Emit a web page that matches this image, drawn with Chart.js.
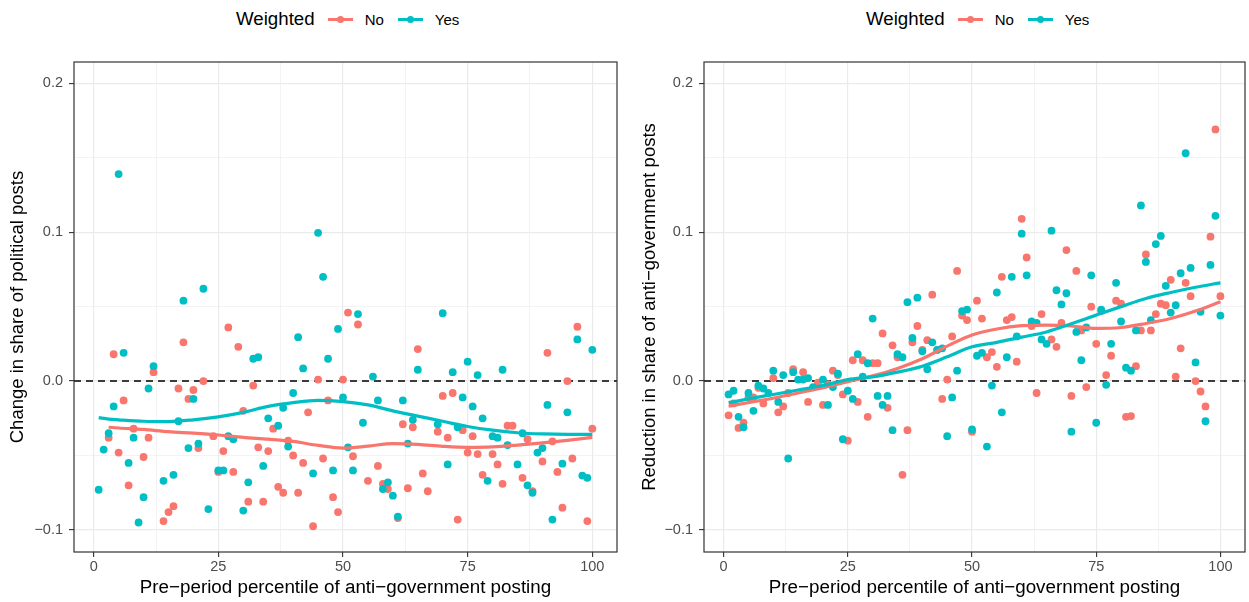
<!DOCTYPE html>
<html>
<head>
<meta charset="utf-8">
<script src="https://cdn.jsdelivr.net/npm/chart.js@4.4.1/dist/chart.umd.min.js"></script>
<style>
  body { margin: 0; background: #fff; width: 1249px; height: 602px; overflow: hidden; position: relative;
         font-family: "Liberation Sans", Arial, sans-serif; }
  canvas { position: absolute; top: 0; }
  .legend { position: absolute; top: 6px; height: 26px; display: flex; align-items: center; white-space: nowrap; color: #000; }
  .legend .ttl { font-size: 18.7px; margin-right: 13px; }
  .key { position: relative; width: 25px; height: 14px; margin-right: 12px; }
  .key::before { content: ""; position: absolute; left: 0; right: 0; top: 5.5px; height: 3px; background: var(--c); }
  .key::after { content: ""; position: absolute; left: 9px; top: 3.5px; width: 7px; height: 7px; border-radius: 50%; background: var(--c); }
  .lab { font-size: 15px; margin-right: 14px; }
</style>
</head>
<body>
<div class="legend" style="left:236px"><span class="ttl">Weighted</span><span class="key" style="--c:#F8766D"></span><span class="lab">No</span><span class="key" style="--c:#00BFC4"></span><span class="lab">Yes</span></div>
<div class="legend" style="left:866px"><span class="ttl">Weighted</span><span class="key" style="--c:#F8766D"></span><span class="lab">No</span><span class="key" style="--c:#00BFC4"></span><span class="lab">Yes</span></div>
<canvas id="izq" width="624" height="602" style="left:0"></canvas>
<canvas id="der" width="619" height="602" style="left:630px"></canvas>
<script>
const percentile = Array.from({ length: 100 }, (_, i) => i + 1)

// left panel: change in share of political posts
const leftNo = [
  null, null, -0.038, 0.018, -0.048, -0.013, -0.070, -0.032, null, -0.051,
  -0.038, 0.006, null, -0.094, -0.088, -0.084, -0.005, 0.026, -0.012, -0.006,
  -0.045, 0.000, null, -0.037, -0.061, -0.047, 0.036, -0.061, 0.023, -0.020,
  -0.081, -0.003, -0.0445, -0.081, -0.047, -0.032, -0.071, -0.075, -0.040, -0.050,
  -0.075, -0.055, -0.021, -0.0975, 0.001, -0.052, -0.013, -0.078, -0.088, 0.001,
  0.046, -0.0505, 0.038, null, -0.067, null, -0.057, -0.069, -0.0725, null,
  -0.092, -0.029, -0.072, -0.031, 0.0215, -0.062, -0.074, null, -0.034, -0.010,
  -0.038, -0.008, -0.093, -0.033, -0.048, -0.037, -0.049, -0.063, null, -0.049,
  -0.056, -0.069, -0.030, -0.030, null, -0.065, -0.039, -0.074, null, -0.054,
  0.019, -0.0405, -0.061, -0.085, 0.000, -0.052, 0.0365, null, -0.094, -0.032
]
const leftYes = [
  -0.073, -0.046, -0.035, -0.017, 0.139, 0.019, -0.055, -0.038, -0.095, -0.078,
  -0.005, 0.010, null, -0.067, null, -0.063, -0.027, 0.054, -0.045, -0.012,
  -0.042, 0.062, -0.086, null, -0.060, -0.060, -0.037, -0.039, null, -0.087,
  -0.068, 0.015, 0.016, -0.057, -0.025, null, -0.030, -0.018, -0.044, -0.008,
  0.0295, 0.0085, null, -0.062, 0.0996, 0.070, 0.015, -0.060, 0.035, -0.011,
  -0.0445, -0.060, 0.045, -0.028, null, 0.003, -0.013, -0.0725, -0.068, -0.077,
  -0.091, -0.013, -0.042, -0.026, 0.0076, null, null, null, -0.029, 0.0456,
  -0.056, 0.006, -0.031, -0.011, 0.013, -0.017, 0.004, -0.025, -0.067, -0.037,
  -0.038, 0.0076, -0.043, null, -0.056, -0.035, -0.070, -0.075, -0.048, -0.045,
  -0.016, -0.093, null, -0.0555, -0.021, null, 0.028, -0.0635, -0.065, 0.021
]

// right panel: reduction in share of anti-government posts
const rightNo = [
  -0.023, -0.015, -0.0315, -0.028, -0.011, -0.011, -0.0045, -0.015, null, 0.002,
  -0.021, -0.017, -0.008, 0.008, null, 0.006, -0.014, null, -0.001, -0.016,
  -0.002, 0.007, 0.004, -0.009, -0.040, 0.014, -0.014, 0.014, -0.024, 0.012,
  0.012, 0.032, -0.018, 0.024, 0.016, -0.063, -0.033, 0.026, 0.037, 0.021,
  0.0275, 0.058, 0.021, -0.012, 0.001, 0.030, 0.074, 0.044, 0.041, -0.034,
  0.054, 0.042, 0.016, 0.0195, 0.0096, 0.070, 0.041, 0.043, 0.013, 0.109,
  0.083, 0.037, -0.008, 0.045, null, 0.028, 0.023, 0.039, 0.088, -0.010,
  0.074, 0.034, -0.004, 0.050, 0.025, 0.047, 0.004, 0.017, 0.054, 0.052,
  -0.024, -0.0235, 0.010, 0.034, 0.085, 0.034, 0.045, 0.052, 0.051, 0.068,
  0.003, 0.022, 0.066, 0.057, 0.000, -0.007, -0.017, 0.097, 0.169, 0.057
]
const rightYes = [
  -0.009, -0.0065, -0.024, -0.031, -0.008, -0.020, -0.003, -0.005, -0.008, 0.007,
  -0.014, 0.004, -0.052, 0.006, 0.001, 0.001, 0.002, -0.004, null, 0.001,
  -0.016, -0.004, 0.005, -0.039, -0.0065, -0.012, 0.018, 0.003, 0.012, 0.042,
  -0.010, -0.016, -0.010, -0.033, 0.018, 0.016, 0.053, 0.029, 0.056, 0.020,
  0.008, 0.026, 0.021, 0.022, -0.037, -0.011, 0.007, 0.047, 0.048, -0.0325,
  0.017, 0.019, -0.044, -0.003, 0.0595, -0.021, 0.016, 0.070, 0.030, 0.099,
  0.071, 0.040, 0.039, 0.028, 0.025, 0.101, 0.061, 0.0515, 0.059, -0.034,
  0.033, 0.014, 0.036, 0.071, -0.028, 0.048, -0.0025, 0.025, 0.066, 0.040,
  0.009, 0.007, 0.034, 0.118, 0.080, 0.041, 0.092, 0.0975, 0.064, 0.046,
  0.051, 0.0725, 0.153, 0.076, 0.0125, 0.0465, -0.027, 0.078, 0.111, 0.044
]

// loess curves
const smoothX = [1, 3, 5, 10, 15, 20, 25, 30, 35, 40, 45, 50, 55, 60, 65, 70, 75, 80, 85, 90, 95, 100]
const leftNoSmooth = [null, -0.031, -0.0315, -0.0325, -0.034, -0.035, -0.0362, -0.0378, -0.039, -0.0405, -0.0432,
  -0.045, -0.0437, -0.042, -0.0425, -0.0438, -0.0445, -0.0442, -0.043, -0.0415, -0.0398, -0.0378]
const leftYesSmooth = [-0.0245, -0.0255, -0.026, -0.027, -0.0272, -0.026, -0.024, -0.021, -0.017, -0.0145, -0.013,
  -0.0138, -0.016, -0.020, -0.0235, -0.027, -0.0305, -0.033, -0.0347, -0.0355, -0.0358, -0.0358]
const rightNoSmooth = [-0.0168, -0.0157, -0.0145, -0.0115, -0.008, -0.0045, -0.0004, 0.0035, 0.0085, 0.015, 0.0235,
  0.031, 0.035, 0.0372, 0.0376, 0.037, 0.0354, 0.036, 0.0387, 0.042, 0.047, 0.0532]
const rightYesSmooth = [-0.0145, -0.0133, -0.012, -0.009, -0.006, -0.003, 0.001, 0.0028, 0.006, 0.010, 0.0163,
  0.023, 0.026, 0.0295, 0.033, 0.0385, 0.0443, 0.050, 0.0555, 0.0595, 0.063, 0.066]

const xTicks = [0, 12.5, 25, 37.5, 50, 62.5, 75, 87.5, 100]
const xMajor = [0, 25, 50, 75, 100]
const yTicks = [-0.1, -0.05, 0, 0.05, 0.1, 0.15, 0.2]
const yMajor = [-0.1, 0, 0.1, 0.2]

const ROJO = "#F8766D"
const CIAN = "#00BFC4"
const FUENTE = '"Liberation Sans", Arial, sans-serif'

function aPuntos(xs, ys) {
    return xs.map((x, i) => ({ x: x, y: ys[i] })).filter(p => p.y !== null)
}

function esMayor(lista, v) {
    return lista.some(m => Math.abs(m - v) < 1e-9)
}

// dashed zero line + panel border
const panelPlugin = {
    id: "panel",
    beforeDatasetsDraw(chart) {
        const { ctx, chartArea } = chart
        const y0 = chart.scales.y.getPixelForValue(0)
        ctx.save()
        ctx.strokeStyle = "#000"
        ctx.lineWidth = 1.6
        ctx.setLineDash([7, 5])
        ctx.beginPath()
        ctx.moveTo(chartArea.left, y0)
        ctx.lineTo(chartArea.right, y0)
        ctx.stroke()
        ctx.restore()
    },
    afterDraw(chart) {
        const { ctx, chartArea } = chart
        ctx.save()
        ctx.strokeStyle = "#333333"
        ctx.lineWidth = 1.2
        ctx.strokeRect(chartArea.left, chartArea.top, chartArea.right - chartArea.left, chartArea.bottom - chartArea.top)
        ctx.restore()
    }
}

function hacerGrafico(id, tituloY, padTitulo, padDer, noVals, yesVals, noSuave, yesSuave) {
    const datasets = [
        { data: aPuntos(smoothX, yesSuave), showLine: true, borderColor: CIAN, borderWidth: 3.2, pointRadius: 0,
          cubicInterpolationMode: "monotone", order: 0 },
        { data: aPuntos(smoothX, noSuave), showLine: true, borderColor: ROJO, borderWidth: 3.2, pointRadius: 0,
          cubicInterpolationMode: "monotone", order: 1 },
        { data: aPuntos(percentile, yesVals), backgroundColor: CIAN, borderWidth: 0, pointRadius: 3.9, order: 2 },
        { data: aPuntos(percentile, noVals), backgroundColor: ROJO, borderWidth: 0, pointRadius: 3.9, order: 3 }
    ]
    return new Chart(document.getElementById(id), {
        type: "scatter",
        data: { datasets },
        options: {
            responsive: false,
            animation: false,
            devicePixelRatio: 1,
            layout: { padding: { top: 62, right: padDer, left: 0, bottom: 0 } },
            plugins: { legend: { display: false }, tooltip: { enabled: false } },
            scales: {
                x: {
                    type: "linear", min: -3.95, max: 104.95,
                    afterBuildTicks: s => { s.ticks = xTicks.map(v => ({ value: v })) },
                    afterFit: s => { s.height = 50 },
                    ticks: { autoSkip: false, maxRotation: 0, color: "#4D4D4D", padding: 1,
                             font: { family: FUENTE, size: 14.5 },
                             callback: v => esMayor(xMajor, v) ? String(v) : "" },
                    grid: { color: "#EBEBEB", lineWidth: c => esMayor(xMajor, c.tick.value) ? 1.2 : 0.6,
                            tickLength: 5, tickWidth: 1.1,
                            tickColor: c => esMayor(xMajor, c.tick.value) ? "#333333" : "rgba(0,0,0,0)" },
                    border: { display: false },
                    title: { display: true, text: "Pre\u2212period percentile of anti\u2212government posting",
                             color: "#000", font: { family: FUENTE, size: 18.8 }, padding: { top: 0, bottom: 3 } }
                },
                y: {
                    type: "linear", min: -0.1148, max: 0.2143,
                    afterBuildTicks: s => { s.ticks = yTicks.map(v => ({ value: v })) },
                    afterFit: s => { s.width = 74 },
                    ticks: { autoSkip: false, color: "#4D4D4D", padding: 6,
                             font: { family: FUENTE, size: 14.5 },
                             callback: v => {
                                 if (!esMayor(yMajor, v)) return ""
                                 return (v < 0 ? "\u2212" : "") + Math.abs(v).toFixed(1)
                             } },
                    grid: { color: "#EBEBEB", lineWidth: c => esMayor(yMajor, c.tick.value) ? 1.2 : 0.6,
                            tickLength: 5, tickWidth: 1.1,
                            tickColor: c => esMayor(yMajor, c.tick.value) ? "#333333" : "rgba(0,0,0,0)" },
                    border: { display: false },
                    title: { display: true, text: tituloY, color: "#000",
                             font: { family: FUENTE, size: 18.5 }, padding: { top: padTitulo, bottom: 0 } }
                }
            }
        },
        plugins: [panelPlugin]
    })
}

hacerGrafico("izq", "Change in share of political posts", 7, 7, leftNo, leftYes, leftNoSmooth, leftYesSmooth)
hacerGrafico("der", "Reduction in share of anti\u2212government posts", 9, 2, rightNo, rightYes, rightNoSmooth, rightYesSmooth)
</script>
</body>
</html>
